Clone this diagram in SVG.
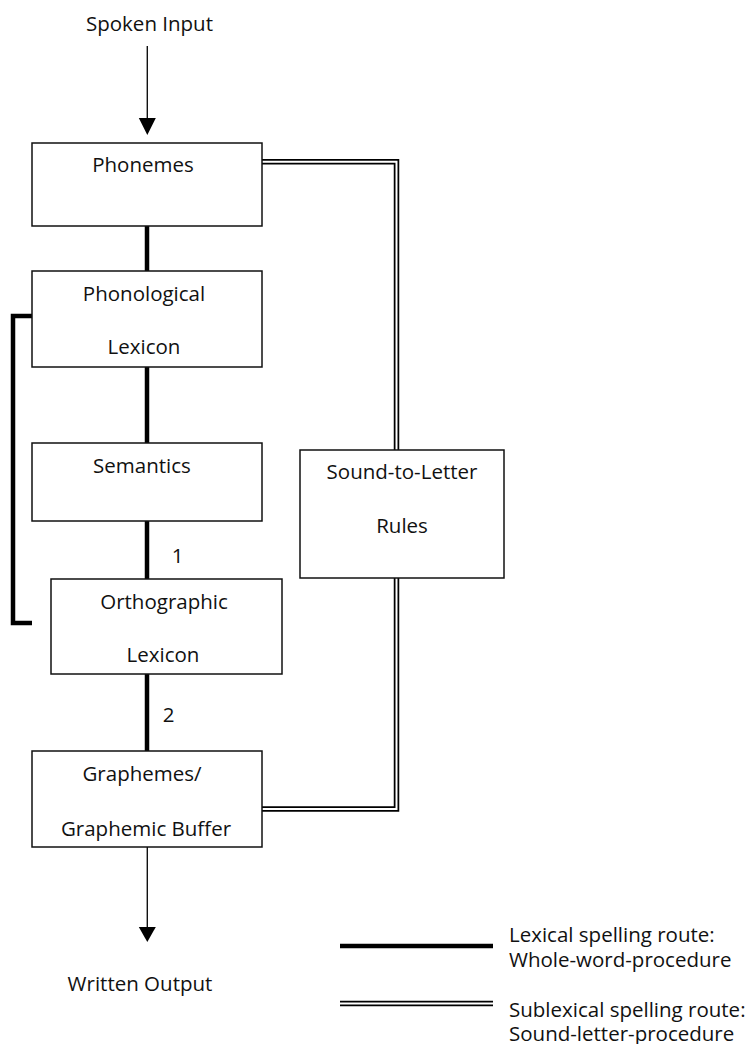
<svg xmlns="http://www.w3.org/2000/svg" width="750" height="1044" viewBox="0 0 750 1044">
<style>
text{font-family:"Open Sans","Liberation Sans",sans-serif;font-size:20.5px;fill:#111;text-anchor:middle}
.lg{text-anchor:start}
.box{fill:#fff;stroke:#111;stroke-width:1.5}
.thick{fill:none;stroke:#000;stroke-width:4.5}
.thin{fill:none;stroke:#111;stroke-width:1.4}
.dblo{fill:none;stroke:#000;stroke-width:5.5}
.dbli{fill:none;stroke:#fff;stroke-width:2}
.head{fill:#000}
</style>
<rect width="750" height="1044" fill="#fff"/>
<g id="connectors">
  <line class="thin" x1="147.3" y1="46" x2="147.3" y2="120"/>
  <polygon class="head" points="138.8,118 155.8,118 147.3,135"/>
  <line class="thick" x1="147" y1="226" x2="147" y2="271"/>
  <line class="thick" x1="147" y1="367" x2="147" y2="443"/>
  <line class="thick" x1="147" y1="521" x2="147" y2="579"/>
  <line class="thick" x1="147" y1="674" x2="147" y2="751"/>
  <path class="thick" d="M32,316 H13 V623 H32"/>
  <path class="dblo" d="M262,161.8 H396.5 V450"/>
  <path class="dbli" d="M262,161.8 H396.5 V450"/>
  <path class="dblo" d="M396.5,578 V809 H262"/>
  <path class="dbli" d="M396.5,578 V809 H262"/>
  <line class="thin" x1="147.3" y1="847" x2="147.3" y2="929"/>
  <polygon class="head" points="138.8,927 155.8,927 147.3,942"/>
</g>
<g id="spoken-input"><text x="149.5" y="31">Spoken Input</text></g>
<g id="phonemes">
  <rect class="box" x="32" y="143" width="230" height="83"/>
  <text x="143" y="172">Phonemes</text>
</g>
<g id="phonological-lexicon">
  <rect class="box" x="32" y="271" width="230" height="96"/>
  <text x="144" y="300.5">Phonological</text>
  <text x="144" y="354">Lexicon</text>
</g>
<g id="semantics">
  <rect class="box" x="32" y="443" width="230" height="78"/>
  <text x="142" y="472.5">Semantics</text>
</g>
<g id="orthographic-lexicon">
  <rect class="box" x="51" y="579" width="231" height="95"/>
  <text x="164" y="609">Orthographic</text>
  <text x="163" y="661.5">Lexicon</text>
</g>
<g id="sound-to-letter-rules">
  <rect class="box" x="300" y="450" width="204" height="128"/>
  <text x="402" y="479">Sound-to-Letter</text>
  <text x="402" y="533">Rules</text>
</g>
<g id="label-1"><text x="177.5" y="562.5">1</text></g>
<g id="label-2"><text x="168.5" y="722">2</text></g>
<g id="graphemes">
  <rect class="box" x="32" y="751" width="230" height="96"/>
  <text x="142" y="780.5">Graphemes/</text>
  <text x="146" y="836">Graphemic Buffer</text>
</g>
<g id="written-output"><text x="140" y="990.5">Written Output</text></g>
<g id="legend">
  <line class="thick" x1="340" y1="946" x2="493" y2="946"/>
  <line class="dblo" x1="340" y1="1003.5" x2="493" y2="1003.5"/>
  <line class="dbli" x1="340" y1="1003.5" x2="493" y2="1003.5"/>
  <text class="lg" x="509" y="942">Lexical spelling route:</text>
  <text class="lg" x="509" y="967">Whole-word-procedure</text>
  <text class="lg" x="509" y="1017">Sublexical spelling route:</text>
  <text class="lg" x="509" y="1041">Sound-letter-procedure</text>
</g>
</svg>
